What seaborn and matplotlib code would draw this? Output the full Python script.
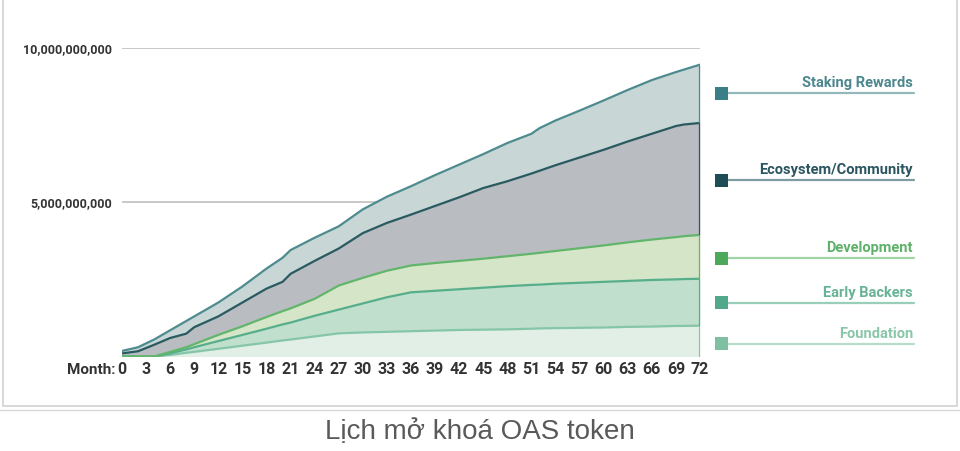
import numpy as np
import pandas as pd
import matplotlib
matplotlib.use("Agg")
import matplotlib.pyplot as plt
import seaborn as sns
from matplotlib.patches import Rectangle

# ---------------- data (billions of tokens unlocked, per category) ----------------
months = [0, 2, 4, 6, 8, 9, 12, 15, 18, 20, 21, 24, 27, 30, 33, 36, 39, 42, 45, 48,
          51, 52, 54, 57, 60, 63, 66, 69, 70, 72]
foundation = [0, 0, 0, 0.05, 0.12, 0.15, 0.25, 0.35, 0.45, 0.52, 0.55, 0.65, 0.75, 0.78,
              0.80, 0.82, 0.84, 0.86, 0.87, 0.88, 0.90, 0.91, 0.92, 0.93, 0.94, 0.96,
              0.97, 0.99, 0.99, 1.00]
early_backers = [0, 0, 0, 0.05, 0.11, 0.15, 0.25, 0.35, 0.45, 0.52, 0.55, 0.67, 0.77, 0.94,
                 1.12, 1.26, 1.29, 1.32, 1.36, 1.40, 1.42, 1.42, 1.44, 1.46, 1.48, 1.49,
                 1.51, 1.51, 1.52, 1.52]
development = [0, 0, 0, 0.05, 0.07, 0.10, 0.20, 0.28, 0.38, 0.43, 0.46, 0.55, 0.78, 0.83,
               0.86, 0.87, 0.90, 0.92, 0.94, 0.97, 1.01, 1.03, 1.06, 1.12, 1.18, 1.25,
               1.31, 1.37, 1.39, 1.42]
ecosystem = [0.10, 0.17, 0.38, 0.45, 0.44, 0.55, 0.60, 0.77, 0.92, 0.95, 1.12, 1.23, 1.20,
             1.45, 1.55, 1.65, 1.85, 2.06, 2.29, 2.43, 2.60, 2.66, 2.78, 2.94, 3.10, 3.27,
             3.43, 3.60, 3.62, 3.63]
staking = [0.08, 0.13, 0.17, 0.25, 0.41, 0.35, 0.45, 0.52, 0.65, 0.78, 0.77, 0.75, 0.72,
           0.77, 0.85, 0.92, 1.00, 1.06, 1.10, 1.24, 1.29, 1.38, 1.45, 1.52, 1.60, 1.67,
           1.74, 1.75, 1.78, 1.89]

categories = ["Foundation", "Early Backers", "Development", "Ecosystem/Community",
              "Staking Rewards"]
series = [foundation, early_backers, development, ecosystem, staking]
month_ticks = list(range(0, 73, 3))
y_ticks = [5_000_000_000, 10_000_000_000]
title = "Lịch mở khoá OAS token"

# ---------------- styling ----------------
fill_colors = ["#e1efe7", "#c0dfcd", "#d4e5c8", "#b9bcc1", "#c8d6d6"]
line_colors = ["#86c6a8", "#56ae8b", "#62b66c", "#285a60", "#4d8b8e"]
marker_colors = ["#80c0a2", "#4fa98a", "#4ea85a", "#1e4d56", "#3a7f87"]
text_colors = ["#8ac6aa", "#66b396", "#5eb169", "#2b5560", "#4b878d"]

sns.set_theme(style="white")
plt.rcParams["font.family"] = ["Roboto", "DejaVu Sans"]

W, H, DPI = 960, 451, 100
fig = plt.figure(figsize=(W / DPI, H / DPI), dpi=DPI)
fig.patch.set_facecolor("white")

# overlay axes in pixel coordinates for frame / legend / caption
lax = fig.add_axes([0, 0, 1, 1], zorder=0)
lax.set_xlim(0, W)
lax.set_ylim(H, 0)
lax.axis("off")

x0, x1 = 122, 700
y_top, y_zero = 48, 356.5
ax = fig.add_axes([x0 / W, (H - y_zero) / H, (x1 - x0) / W, (y_zero - y_top) / H], zorder=2)
ax.patch.set_alpha(0)

df = pd.DataFrame({"month": months})
cum = np.zeros(len(months))
tops = []
for name, vals in zip(categories, series):
    lower = cum.copy()
    cum = cum + np.array(vals) * 1e9
    tops.append((lower, cum.copy()))
    df[name] = cum

for i, (name, (lower, upper)) in enumerate(zip(categories, tops)):
    ax.fill_between(months, lower, upper, color=fill_colors[i], linewidth=0, zorder=1 + i)
for i, name in enumerate(categories):
    sns.lineplot(data=df, x="month", y=name, ax=ax, color=line_colors[i],
                 linewidth=1.6, zorder=10 + i, legend=False)
    lower, upper = tops[i]
    ax.plot([72, 72], [lower[-1], upper[-1]], color=line_colors[i], linewidth=1.6,
            zorder=10 + i, solid_capstyle="butt")

ax.set_xlim(0, 72)
ax.set_ylim(0, 10_000_000_000)
ax.set_xticks(month_ticks)
ax.set_xticklabels([str(m) for m in month_ticks], fontsize=11.5, fontweight="bold",
                   color="#333333")
ax.set_yticks(y_ticks)
ax.set_yticklabels([f"{v:,}" for v in y_ticks], fontsize=9, fontweight="bold",
                   color="#333333")
ax.tick_params(axis="both", length=0)
ax.tick_params(axis="x", pad=4)
ax.tick_params(axis="y", pad=7)
ax.yaxis.grid(True, color="#c8c8c8", linewidth=1.4, zorder=0)
ax.set_axisbelow(True)
ax.set_xlabel("")
ax.set_ylabel("")
for s in ax.spines.values():
    s.set_visible(False)

# "Month:" label
lax.text(115, 370, "Month:", ha="right", va="center", fontsize=11, fontweight="bold",
         color="#333333")

# frame around chart and separator
lax.add_patch(Rectangle((3, -2), 954, 408, fill=False, edgecolor="#d2d2d2", linewidth=1.2))
lax.plot([0, W], [409.5, 409.5], color="#d8d8d8", linewidth=1.0)

# legend on the right
leg_y = {"Staking Rewards": 93, "Ecosystem/Community": 180, "Development": 258,
         "Early Backers": 302.5, "Foundation": 343.5}
for i, name in enumerate(categories):
    yy = leg_y[name]
    lax.add_patch(Rectangle((715, yy - 6.5), 13, 13, color=marker_colors[i], linewidth=0))
    lax.plot([728, 914], [yy, yy], color=line_colors[i], linewidth=1.6, alpha=0.6)
    lax.text(913, yy - 3, name, ha="right", va="bottom", fontsize=10.5, fontweight="bold",
             color=text_colors[i])

# caption
lax.text(480, 432, title, ha="center", va="center", fontsize=20, color="#5a5a5a",
         family=["Liberation Sans", "DejaVu Sans"])

fig.savefig("out.png", dpi=DPI, facecolor="white")
